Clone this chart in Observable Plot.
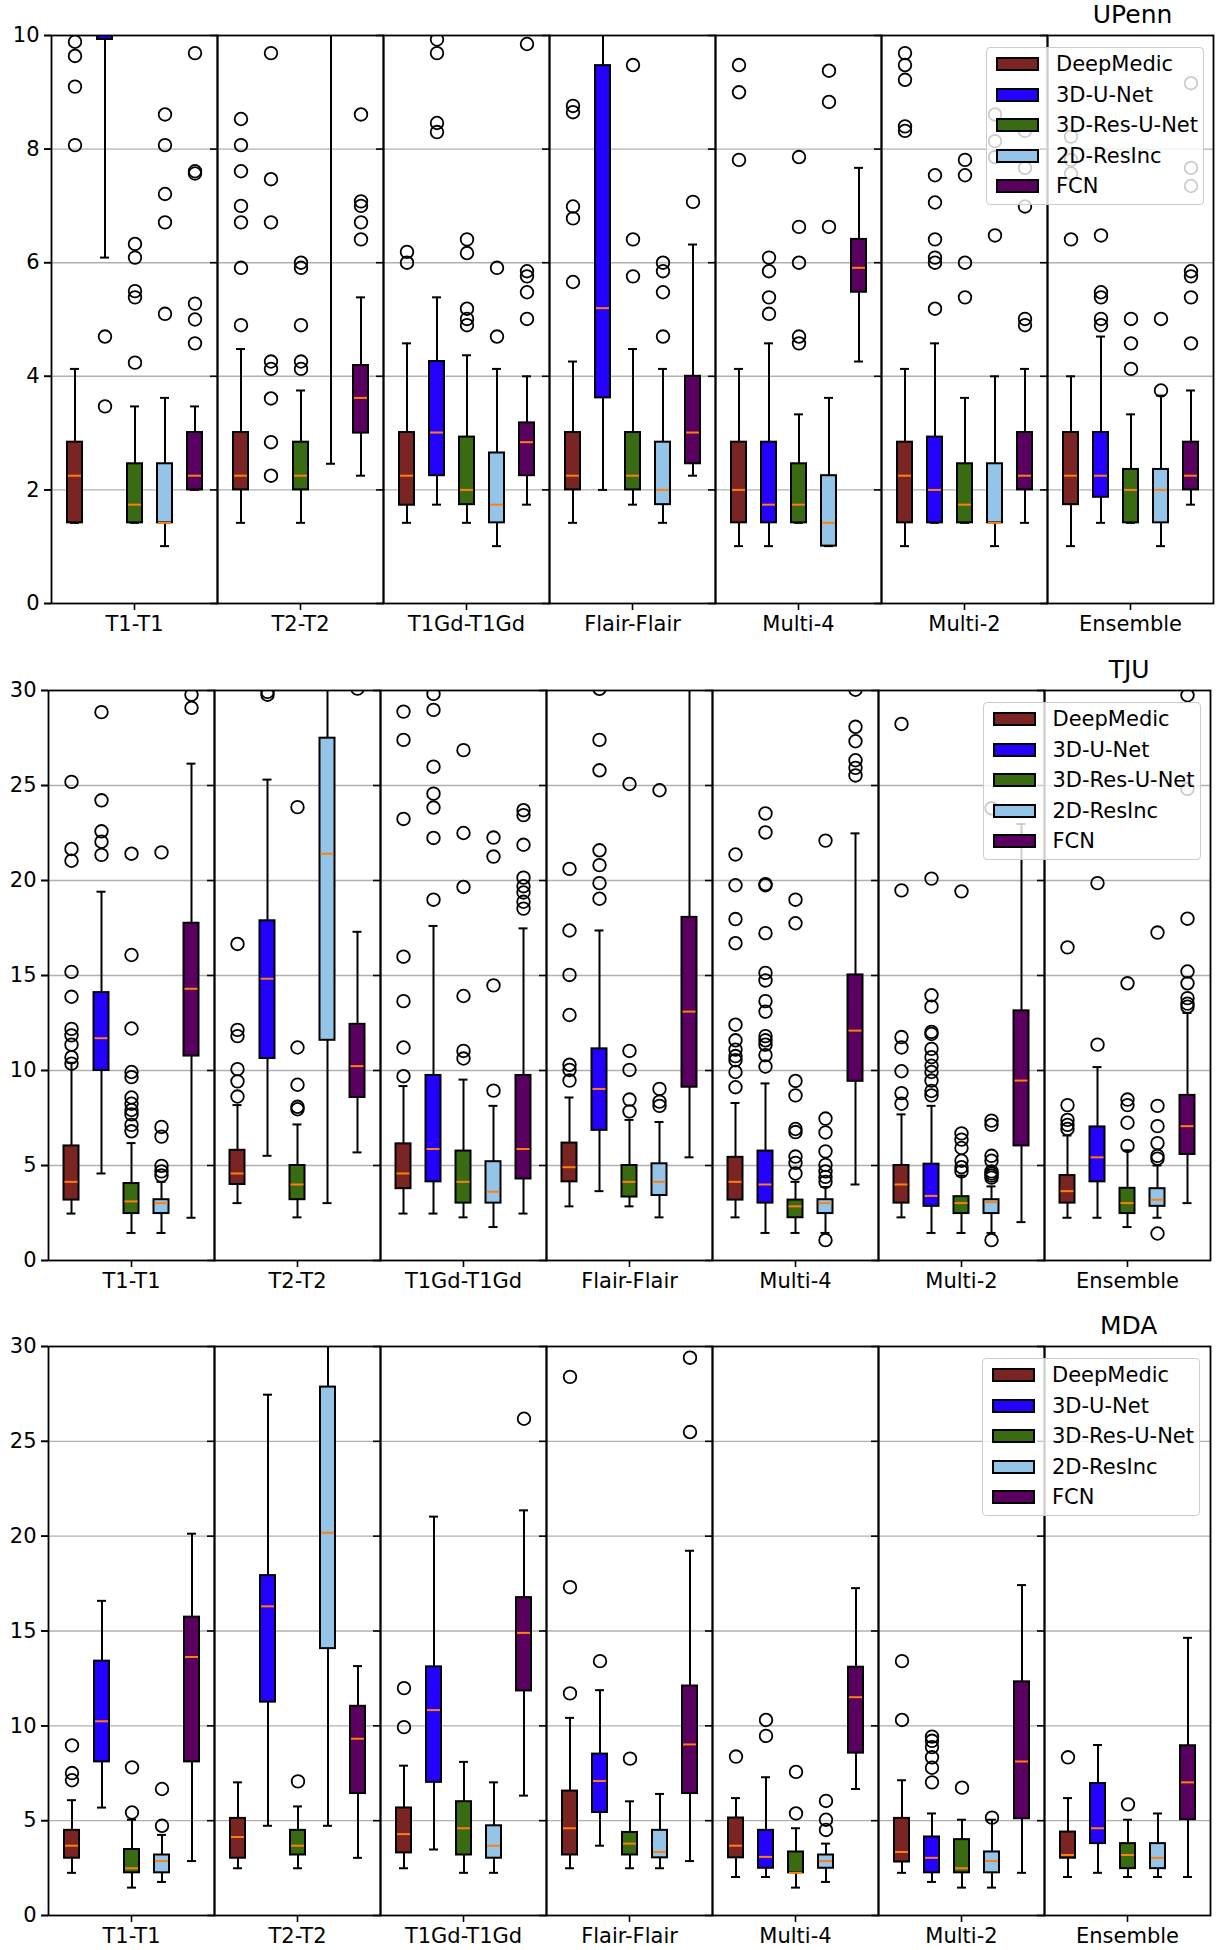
<!DOCTYPE html>
<html>
<head>
<meta charset="utf-8">
<script src="https://cdn.jsdelivr.net/npm/d3@7"></script>
<script src="https://cdn.jsdelivr.net/npm/@observablehq/plot@0.6"></script>
<style>
  html, body { margin: 0; padding: 0; background: #fff; }
  #root { position: relative; width: 1222px; height: 1950px; font-family: "DejaVu Sans", sans-serif; }
  .panel { position: absolute; left: 0; width: 1222px; height: 650px; }
  .title { position: absolute; font-size: 25px; text-align: center; line-height: 28px; color: #000; }
  .legend { position: absolute; background: rgba(255,255,255,0.8); border: 1px solid #cccccc; border-radius: 4px; box-sizing: border-box; }
  .legend .row { position: absolute; left: 0; height: 24px; display: flex; align-items: center; font-size: 21px; color: #000; white-space: nowrap; }
  .legend .sw { width: 43px; height: 14px; border: 2px solid #000; box-sizing: border-box; margin-left: 9px; margin-right: 17px; }
</style>
</head>
<body>
<div id="root"></div>
<script>
const groups = ["T1-T1", "T2-T2", "T1Gd-T1Gd", "Flair-Flair", "Multi-4", "Multi-2", "Ensemble"];
const models = ["DeepMedic", "3D-U-Net", "3D-Res-U-Net", "2D-ResInc", "FCN"];
const modelColors = ["#7a2424", "#2400ff", "#386b12", "#94c4e8", "#590060"];
const panelTitles = ["UPenn", "TJU", "MDA"];
const ticksUPenn = [0, 2, 4, 6, 8, 10];
const ticksOther = [0, 5, 10, 15, 20, 25, 30];

// [group, model, whiskerLow, q1, median, q3, whiskerHigh]
const upennBoxes = [
  ["T1-T1","DeepMedic",1.42,1.42,2.25,2.84,4.13],
  ["T1-T1","3D-U-Net",6.09,9.93,11.5,13.5,17],
  ["T1-T1","3D-Res-U-Net",1.42,1.42,1.74,2.46,3.47],
  ["T1-T1","2D-ResInc",1.01,1.42,1.42,2.46,3.62],
  ["T1-T1","FCN",2.0,2.0,2.25,3.01,3.47],
  ["T2-T2","DeepMedic",1.42,2.0,2.25,3.01,4.48],
  ["T2-T2","3D-U-Net",11,12.5,14,16,20],
  ["T2-T2","3D-Res-U-Net",1.42,2.0,2.25,2.84,3.75],
  ["T2-T2","2D-ResInc",2.46,11,14,18,25],
  ["T2-T2","FCN",2.25,3.0,3.62,4.19,5.39],
  ["T1Gd-T1Gd","DeepMedic",1.42,1.73,2.25,3.01,4.58],
  ["T1Gd-T1Gd","3D-U-Net",1.74,2.25,3.01,4.26,5.39],
  ["T1Gd-T1Gd","3D-Res-U-Net",1.42,1.74,2.0,2.93,4.37],
  ["T1Gd-T1Gd","2D-ResInc",1.01,1.42,1.74,2.65,4.13],
  ["T1Gd-T1Gd","FCN",1.74,2.25,2.84,3.18,4.0],
  ["Flair-Flair","DeepMedic",1.42,2.0,2.25,3.01,4.26],
  ["Flair-Flair","3D-U-Net",2.0,3.62,5.2,9.47,11],
  ["Flair-Flair","3D-Res-U-Net",1.74,2.0,2.25,3.01,4.48],
  ["Flair-Flair","2D-ResInc",1.42,1.74,2.0,2.84,4.13],
  ["Flair-Flair","FCN",2.25,2.46,3.01,4.0,6.32],
  ["Multi-4","DeepMedic",1.01,1.42,2.0,2.84,4.13],
  ["Multi-4","3D-U-Net",1.01,1.42,1.74,2.84,4.58],
  ["Multi-4","3D-Res-U-Net",1.42,1.42,1.74,2.46,3.33],
  ["Multi-4","2D-ResInc",1.01,1.01,1.42,2.25,3.62],
  ["Multi-4","FCN",4.26,5.48,5.91,6.41,7.67],
  ["Multi-2","DeepMedic",1.01,1.42,2.25,2.84,4.13],
  ["Multi-2","3D-U-Net",1.42,1.42,2.0,2.93,4.58],
  ["Multi-2","3D-Res-U-Net",1.42,1.42,1.74,2.46,3.62],
  ["Multi-2","2D-ResInc",1.01,1.42,1.42,2.46,4.0],
  ["Multi-2","FCN",1.42,2.0,2.25,3.01,4.13],
  ["Ensemble","DeepMedic",1.01,1.74,2.25,3.01,4.0],
  ["Ensemble","3D-U-Net",1.42,1.87,2.25,3.01,4.70],
  ["Ensemble","3D-Res-U-Net",1.42,1.42,2.0,2.36,3.33],
  ["Ensemble","2D-ResInc",1.01,1.42,2.0,2.36,3.66],
  ["Ensemble","FCN",1.74,2.0,2.25,2.84,3.75]
];
const upennOutliers = [
  ["T1-T1","DeepMedic",[9.89,9.64,9.10,8.07]],
  ["T1-T1","3D-U-Net",[4.70,3.47]],
  ["T1-T1","3D-Res-U-Net",[6.33,6.09,5.50,5.39,4.24]],
  ["T1-T1","2D-ResInc",[8.61,8.07,7.21,6.71,5.10]],
  ["T1-T1","FCN",[9.69,7.61,7.57,5.28,5.0,4.58]],
  ["T2-T2","DeepMedic",[8.53,8.07,7.61,7.0,6.71,5.91,4.90]],
  ["T2-T2","3D-U-Net",[9.69,7.47,6.71,4.26,4.13,3.61,2.84,2.25]],
  ["T2-T2","3D-Res-U-Net",[6.0,5.91,4.90,4.26,4.13]],
  ["T2-T2","FCN",[8.61,7.08,7.0,6.71,6.41]],
  ["T1Gd-T1Gd","DeepMedic",[6.19,6.0]],
  ["T1Gd-T1Gd","3D-U-Net",[9.93,9.69,8.46,8.30]],
  ["T1Gd-T1Gd","3D-Res-U-Net",[6.41,6.17,5.19,5.01,4.90]],
  ["T1Gd-T1Gd","2D-ResInc",[5.91,4.70]],
  ["T1Gd-T1Gd","FCN",[9.85,5.85,5.76,5.48,5.01]],
  ["Flair-Flair","DeepMedic",[8.76,8.65,6.99,6.78,5.66]],
  ["Flair-Flair","3D-Res-U-Net",[9.48,6.41,5.76]],
  ["Flair-Flair","2D-ResInc",[6.0,5.85,5.48,4.70]],
  ["Flair-Flair","FCN",[7.07]],
  ["Multi-4","DeepMedic",[9.48,9.0,7.81]],
  ["Multi-4","3D-U-Net",[6.09,5.85,5.39,5.10]],
  ["Multi-4","3D-Res-U-Net",[7.86,6.63,6.0,4.70,4.58]],
  ["Multi-4","2D-ResInc",[9.38,8.83,6.63]],
  ["Multi-2","DeepMedic",[9.69,9.48,9.22,8.40,8.32]],
  ["Multi-2","3D-U-Net",[7.54,7.06,6.41,6.09,6.0,5.19]],
  ["Multi-2","3D-Res-U-Net",[7.81,7.54,6.0,5.39]],
  ["Multi-2","2D-ResInc",[8.61,8.14,7.86,6.48]],
  ["Multi-2","FCN",[8.32,7.67,6.99,5.01,4.90]],
  ["Ensemble","DeepMedic",[8.22,7.81,7.57,6.41]],
  ["Ensemble","3D-U-Net",[6.48,5.48,5.39,5.01,4.90]],
  ["Ensemble","3D-Res-U-Net",[5.01,4.58,4.13]],
  ["Ensemble","2D-ResInc",[5.01,3.75]],
  ["Ensemble","FCN",[9.16,7.67,7.35,5.85,5.76,5.39,4.58]]
];

const tjuBoxes = [
  ["T1-T1","DeepMedic",2.47,3.18,4.14,6.03,10.41],
  ["T1-T1","3D-U-Net",4.58,10.0,11.70,14.10,19.41],
  ["T1-T1","3D-Res-U-Net",1.45,2.47,3.11,4.05,6.18],
  ["T1-T1","2D-ResInc",1.45,2.47,3.02,3.20,4.14],
  ["T1-T1","FCN",2.25,10.76,14.30,17.75,26.15],
  ["T2-T2","DeepMedic",3.02,4.0,4.58,5.80,8.18],
  ["T2-T2","3D-U-Net",5.51,10.63,14.83,17.88,25.31],
  ["T2-T2","3D-Res-U-Net",2.27,3.20,4.0,5.0,7.16],
  ["T2-T2","2D-ResInc",3.02,11.59,21.41,27.49,31],
  ["T2-T2","FCN",5.69,8.58,10.23,12.43,17.30],
  ["T1Gd-T1Gd","DeepMedic",2.47,3.78,4.58,6.14,9.18],
  ["T1Gd-T1Gd","3D-U-Net",2.47,4.14,5.87,9.74,17.61],
  ["T1Gd-T1Gd","3D-Res-U-Net",2.27,3.02,4.14,5.76,9.52],
  ["T1Gd-T1Gd","2D-ResInc",1.76,3.02,3.62,5.20,8.14],
  ["T1Gd-T1Gd","FCN",2.47,4.29,5.87,9.74,17.48],
  ["Flair-Flair","DeepMedic",2.85,4.14,4.91,6.18,8.58],
  ["Flair-Flair","3D-U-Net",3.65,6.85,9.03,11.14,17.37],
  ["Flair-Flair","3D-Res-U-Net",2.85,3.34,4.14,5.0,7.40],
  ["Flair-Flair","2D-ResInc",2.27,3.42,4.14,5.09,7.29],
  ["Flair-Flair","FCN",5.43,9.12,13.10,18.06,31],
  ["Multi-4","DeepMedic",2.27,3.18,4.14,5.43,8.29],
  ["Multi-4","3D-U-Net",1.45,3.02,4.0,5.76,9.32],
  ["Multi-4","3D-Res-U-Net",1.45,2.25,2.85,3.18,4.14],
  ["Multi-4","2D-ResInc",1.45,2.47,3.02,3.20,3.87],
  ["Multi-4","FCN",4.0,9.43,12.10,15.03,22.48],
  ["Multi-2","DeepMedic",2.27,3.02,4.0,5.0,7.69],
  ["Multi-2","3D-U-Net",1.45,2.85,3.40,5.07,8.14],
  ["Multi-2","3D-Res-U-Net",1.45,2.47,3.02,3.36,4.47],
  ["Multi-2","2D-ResInc",1.45,2.47,3.07,3.20,3.90],
  ["Multi-2","FCN",2.02,6.03,9.47,13.14,22.97],
  ["Ensemble","DeepMedic",2.25,3.02,3.65,4.47,6.58],
  ["Ensemble","3D-U-Net",2.25,4.14,5.43,7.03,10.18],
  ["Ensemble","3D-Res-U-Net",1.76,2.47,3.02,3.80,5.80],
  ["Ensemble","2D-ResInc",2.25,2.85,3.20,3.78,5.0],
  ["Ensemble","FCN",3.02,5.58,7.07,8.69,13.03]
];
const tjuOutliers = [
  ["T1-T1","DeepMedic",[25.19,21.66,21.04,15.19,13.88,12.19,11.85,11.36,10.70,10.36]],
  ["T1-T1","3D-U-Net",[28.86,24.22,22.59,22.04,21.35]],
  ["T1-T1","3D-Res-U-Net",[21.41,16.08,12.21,9.92,9.65,8.58,8.25,7.92,7.69,7.14,6.80]],
  ["T1-T1","2D-ResInc",[21.48,7.03,6.52,4.98,4.69,4.47]],
  ["T1-T1","FCN",[29.78,29.09]],
  ["T2-T2","DeepMedic",[16.66,12.14,11.81,10.07,9.43,8.63]],
  ["T2-T2","3D-U-Net",[29.93,29.78]],
  ["T2-T2","3D-Res-U-Net",[23.86,11.21,9.25,8.09,7.96]],
  ["T2-T2","FCN",[30.1]],
  ["T1Gd-T1Gd","DeepMedic",[28.89,27.40,23.24,15.99,13.65,11.21,9.70]],
  ["T1Gd-T1Gd","3D-U-Net",[29.82,28.98,25.99,24.57,23.84,22.24,18.99]],
  ["T1Gd-T1Gd","3D-Res-U-Net",[26.86,22.50,19.66,13.92,11.03,10.63]],
  ["T1Gd-T1Gd","2D-ResInc",[22.26,21.26,14.48,8.94]],
  ["T1Gd-T1Gd","FCN",[23.70,23.44,21.88,20.15,19.70,19.37,18.88,18.52]],
  ["Flair-Flair","DeepMedic",[20.61,17.37,15.03,12.92,10.30,10.03,9.47]],
  ["Flair-Flair","3D-U-Net",[30.09,27.40,25.80,21.59,20.81,19.86,19.04]],
  ["Flair-Flair","3D-Res-U-Net",[25.08,11.03,10.03,8.47,7.85]],
  ["Flair-Flair","2D-ResInc",[24.75,9.03,8.36,8.14]],
  ["Multi-4","DeepMedic",[21.37,19.75,17.97,16.70,12.41,11.59,11.10,10.76,10.54,9.92,9.12]],
  ["Multi-4","3D-U-Net",[23.53,22.53,19.81,19.75,17.23,15.14,14.74,13.65,13.10,11.81,11.59,11.36,10.81,10.21]],
  ["Multi-4","3D-Res-U-Net",[18.99,17.75,9.45,8.69,6.92,6.76,5.47,5.14,4.58]],
  ["Multi-4","2D-ResInc",[22.10,7.47,6.74,5.74,5.03,4.69,4.40,4.14,1.07]],
  ["Multi-4","FCN",[30.04,28.09,27.33,26.33,25.93,25.53]],
  ["Multi-2","DeepMedic",[28.24,19.48,11.76,11.21,9.96,8.81,8.25]],
  ["Multi-2","3D-U-Net",[20.10,13.96,13.36,12.03,11.92,11.14,10.70,10.25,9.92,9.47,8.92,8.69]],
  ["Multi-2","3D-Res-U-Net",[19.43,6.69,6.36,5.92,5.25,4.91,4.69]],
  ["Multi-2","2D-ResInc",[23.8,7.36,7.14,5.51,5.25,4.69,4.58,4.47,4.36,1.07]],
  ["Ensemble","DeepMedic",[16.48,8.18,7.40,7.14,6.92]],
  ["Ensemble","3D-U-Net",[19.86,11.36]],
  ["Ensemble","3D-Res-U-Net",[14.59,8.47,8.18,7.25,6.03]],
  ["Ensemble","2D-ResInc",[17.26,8.14,7.07,6.18,5.51,5.36,1.42]],
  ["Ensemble","FCN",[29.75,24.82,17.99,15.21,14.59,13.81,13.52,13.36]]
];

const mdaBoxes = [
  ["T1-T1","DeepMedic",2.25,3.02,3.68,4.49,6.08],
  ["T1-T1","3D-U-Net",5.69,8.10,10.24,13.41,16.59],
  ["T1-T1","3D-Res-U-Net",1.47,2.25,2.49,3.48,5.05],
  ["T1-T1","2D-ResInc",1.77,2.25,2.87,3.19,4.25],
  ["T1-T1","FCN",2.87,8.10,13.63,15.73,20.13],
  ["T2-T2","DeepMedic",2.49,3.02,4.14,5.12,7.02],
  ["T2-T2","3D-U-Net",4.73,11.25,16.30,17.92,27.46],
  ["T2-T2","3D-Res-U-Net",2.49,3.19,3.68,4.49,5.75],
  ["T2-T2","2D-ResInc",4.73,14.07,20.18,27.86,31],
  ["T2-T2","FCN",3.04,6.43,9.32,11.03,13.15],
  ["T1Gd-T1Gd","DeepMedic",2.49,3.30,4.29,5.67,7.90],
  ["T1Gd-T1Gd","3D-U-Net",3.48,7.02,10.83,13.11,21.03],
  ["T1Gd-T1Gd","3D-Res-U-Net",2.25,3.19,4.60,6.0,8.10],
  ["T1Gd-T1Gd","2D-ResInc",2.25,3.02,3.68,4.73,7.02],
  ["T1Gd-T1Gd","FCN",6.32,11.84,14.90,16.76,21.36],
  ["Flair-Flair","DeepMedic",2.49,3.19,4.60,6.56,10.42],
  ["Flair-Flair","3D-U-Net",3.68,5.43,7.09,8.51,11.88],
  ["Flair-Flair","3D-Res-U-Net",2.49,3.19,3.79,4.38,6.02],
  ["Flair-Flair","2D-ResInc",2.49,3.04,3.35,4.49,6.41],
  ["Flair-Flair","FCN",2.87,6.43,9.02,12.10,19.23],
  ["Multi-4","DeepMedic",2.03,3.04,3.68,5.14,6.19],
  ["Multi-4","3D-U-Net",2.03,2.49,3.09,4.49,7.29],
  ["Multi-4","3D-Res-U-Net",1.47,2.25,2.25,3.35,4.60],
  ["Multi-4","2D-ResInc",1.77,2.49,2.87,3.19,3.79],
  ["Multi-4","FCN",6.67,8.56,11.51,13.09,17.26],
  ["Multi-2","DeepMedic",2.25,2.82,3.35,5.12,7.13],
  ["Multi-2","3D-U-Net",1.77,2.25,3.04,4.14,5.38],
  ["Multi-2","3D-Res-U-Net",1.47,2.25,2.49,4.0,5.05],
  ["Multi-2","2D-ResInc",1.47,2.25,2.87,3.35,5.05],
  ["Multi-2","FCN",2.25,5.10,8.12,12.32,17.42],
  ["Ensemble","DeepMedic",2.03,3.02,3.19,4.40,6.19],
  ["Ensemble","3D-U-Net",2.25,3.79,4.60,6.96,8.99],
  ["Ensemble","3D-Res-U-Net",2.03,2.47,3.19,3.79,5.05],
  ["Ensemble","2D-ResInc",2.03,2.47,3.04,3.79,5.38],
  ["Ensemble","FCN",2.03,5.05,7.02,8.95,14.64]
];
const mdaOutliers = [
  ["T1-T1","DeepMedic",[8.97,7.51,7.13]],
  ["T1-T1","3D-Res-U-Net",[7.81,5.43]],
  ["T1-T1","2D-ResInc",[6.67,4.73]],
  ["T2-T2","3D-Res-U-Net",[7.07]],
  ["T1Gd-T1Gd","DeepMedic",[11.99,9.93]],
  ["T1Gd-T1Gd","FCN",[26.19]],
  ["Flair-Flair","DeepMedic",[28.40,17.31,11.71]],
  ["Flair-Flair","3D-U-Net",[13.41]],
  ["Flair-Flair","3D-Res-U-Net",[8.27]],
  ["Flair-Flair","FCN",[29.41,25.49]],
  ["Multi-4","DeepMedic",[8.38]],
  ["Multi-4","3D-U-Net",[10.31,9.47]],
  ["Multi-4","3D-Res-U-Net",[7.57,5.38]],
  ["Multi-4","2D-ResInc",[6.04,5.05,4.51]],
  ["Multi-2","DeepMedic",[13.41,10.31]],
  ["Multi-2","3D-U-Net",[9.43,9.21,8.88,8.34,7.79,7.02]],
  ["Multi-2","3D-Res-U-Net",[6.74]],
  ["Multi-2","2D-ResInc",[5.16]],
  ["Ensemble","DeepMedic",[8.34]],
  ["Ensemble","3D-Res-U-Net",[5.86]]
];

const root = document.getElementById("root");

function makePanel(index, boxRows, outRows, cfg) {
  const B = boxRows.map(([g, m, lo, q1, med, q3, hi]) => ({g, m, lo, q1, med, q3, hi}));
  const O = outRows.flatMap(([g, m, vals]) => vals.map(v => ({g, m, v})));
  const gridVals = cfg.ticks.slice(1, -1);
  const common = {fx: "g", x: "m", clip: true};
  const svg = Plot.plot({
    width: 1222,
    height: 650,
    marginLeft: cfg.ml,
    marginRight: cfg.mr,
    marginTop: cfg.mt,
    marginBottom: cfg.mb,
    style: {fontFamily: "DejaVu Sans, sans-serif", fontSize: "21px", color: "#000", background: "#fff", overflow: "visible"},
    fx: {domain: groups, padding: 0, label: null},
    x: {domain: models, paddingInner: 0.5, paddingOuter: 0.46, axis: null},
    y: {domain: [0, cfg.ymax], axis: null},
    color: {domain: models, range: modelColors},
    marks: [
      Plot.ruleY(gridVals, {stroke: "#b0b0b0", strokeWidth: 1.4}),
      Plot.ruleX(B, {...common, y1: "lo", y2: "q1", stroke: "#000", strokeWidth: 2}),
      Plot.ruleX(B, {...common, y1: "q3", y2: "hi", stroke: "#000", strokeWidth: 2}),
      Plot.tickY(B, {...common, y: "lo", stroke: "#000", strokeWidth: 2, insetLeft: 3, insetRight: 3}),
      Plot.tickY(B, {...common, y: "hi", stroke: "#000", strokeWidth: 2, insetLeft: 3, insetRight: 3}),
      Plot.barY(B, {...common, y1: "q1", y2: "q3", fill: "m", stroke: "#000", strokeWidth: 2}),
      Plot.tickY(B, {...common, y: "med", stroke: "#ff7f0e", strokeWidth: 2, insetLeft: 1, insetRight: 1}),
      Plot.dot(O, {...common, y: "v", r: 6.3, stroke: "#000", strokeWidth: 1.8, fill: "none"}),
      Plot.frame({stroke: "#000", strokeWidth: 1.8}),
      Plot.axisY({ticks: cfg.ticks, tickSize: 7, tickPadding: 5, fontSize: 21, label: null, strokeWidth: 1.6}),
      Plot.axisY({ticks: cfg.ticks, tickSize: 7, tickFormat: () => "", facetAnchor: null, label: null, strokeWidth: 1.6}),
      Plot.axisFx({anchor: "bottom", tickSize: 7, tickPadding: 6, fontSize: 21, label: null, strokeWidth: 1.6})
    ]
  });

  const div = document.createElement("div");
  div.className = "panel";
  div.style.top = (index * 650) + "px";
  div.appendChild(svg);

  const plotRight = 1222 - cfg.mr;
  const groupW = (plotRight - cfg.ml) / groups.length;

  const title = document.createElement("div");
  title.className = "title";
  title.textContent = panelTitles[index];
  title.style.left = (cfg.ml + 6 * groupW) + "px";
  title.style.width = groupW + "px";
  title.style.top = (cfg.mt - 34) + "px";
  div.appendChild(title);

  const legend = document.createElement("div");
  legend.className = "legend";
  legend.style.left = (plotRight - 12 - 218) + "px";
  legend.style.top = (cfg.mt + 12) + "px";
  legend.style.width = "218px";
  legend.style.height = "158px";
  models.forEach((m, i) => {
    const row = document.createElement("div");
    row.className = "row";
    row.style.top = (4 + i * 30.6) + "px";
    const sw = document.createElement("div");
    sw.className = "sw";
    sw.style.background = modelColors[i];
    row.appendChild(sw);
    const t = document.createElement("span");
    t.textContent = m;
    row.appendChild(t);
    legend.appendChild(row);
  });
  div.appendChild(legend);
  root.appendChild(div);
}

makePanel(0, upennBoxes, upennOutliers, {ymax: 10, ticks: ticksUPenn, ml: 48, mr: 6, mt: 35, mb: 47});
makePanel(1, tjuBoxes, tjuOutliers, {ymax: 30, ticks: ticksOther, ml: 45.5, mr: 9.5, mt: 40, mb: 40});
makePanel(2, mdaBoxes, mdaOutliers, {ymax: 30, ticks: ticksOther, ml: 45, mr: 10, mt: 46, mb: 35});
</script>
</body>
</html>
